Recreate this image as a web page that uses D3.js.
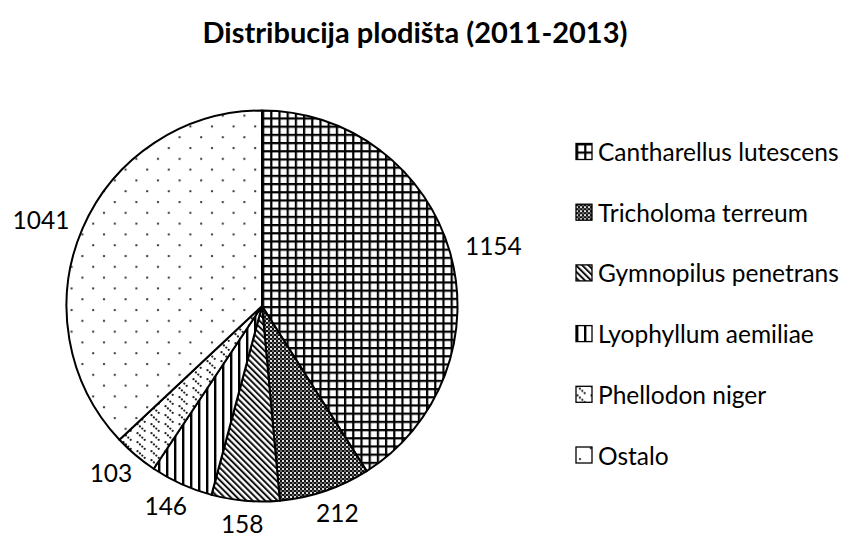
<!DOCTYPE html>
<html>
<head>
<meta charset="utf-8">
<script src="https://cdn.jsdelivr.net/npm/d3@7"></script>
<style>
  html, body { margin: 0; padding: 0; background: #fff; }
  svg { display: block; }
  text { font-family: Lato, "Open Sans", sans-serif; fill: #000; }
</style>
</head>
<body>
<svg id="chart" width="846" height="539"></svg>
<script>
// Fruiting-body counts per species, 2011-2013
const species = ["Cantharellus lutescens", "Tricholoma terreum", "Gymnopilus penetrans",
                 "Lyophyllum aemiliae", "Phellodon niger", "Ostalo"];
const counts = [1154, 212, 158, 146, 103, 1041];
const fills = ["grid", "checker", "diag", "vert", "dashdiag", "dots"];
const title = "Distribucija plodišta (2011-2013)";

const svg = d3.select("#chart");
const defs = svg.append("defs");

// Hatch patterns
function pattern(id, w, h, transform) {
  const p = defs.append("pattern").attr("id", id)
    .attr("patternUnits", "userSpaceOnUse").attr("width", w).attr("height", h);
  if (transform) p.attr("patternTransform", transform);
  p.append("rect").attr("width", w).attr("height", h).attr("fill", "#fff");
  return p;
}
// large grid
let p = pattern("grid", 8.2, 8.2);
p.append("rect").attr("x", 0).attr("y", 0).attr("width", 2.2).attr("height", 8.2).attr("fill", "#000");
p.append("rect").attr("x", 0).attr("y", 0).attr("width", 8.2).attr("height", 2.2).attr("fill", "#000");
// small checkerboard
p = pattern("checker", 4, 4);
p.select("rect").attr("fill", "#e0e0e0");
p.append("rect").attr("x", 0).attr("y", 0).attr("width", 2).attr("height", 2).attr("fill", "#111");
p.append("rect").attr("x", 2).attr("y", 2).attr("width", 2).attr("height", 2).attr("fill", "#111");
p.append("rect").attr("x", 2).attr("y", 0).attr("width", 2).attr("height", 2).attr("fill", "#666");
// dense downward diagonal
p = pattern("diag", 4.4, 4.4, "rotate(-45)");
p.append("rect").attr("x", 0).attr("y", 0).attr("width", 2).attr("height", 4.4).attr("fill", "#111");
// vertical lines
p = pattern("vert", 8, 8);
p.append("rect").attr("x", 0).attr("y", 0).attr("width", 2.4).attr("height", 8).attr("fill", "#000");
// dashed downward diagonal
p = pattern("dashdiag", 14, 9);
for (let i = 0; i < 4; i++) {
  p.append("circle").attr("cx", 1.5 + i * 2.4).attr("cy", 1.2 + i * 2.2).attr("r", 1.15).attr("fill", "#222");
}
// sparse dots
p = pattern("dots", 21.6, 21.6);
p.append("circle").attr("cx", 4).attr("cy", 4).attr("r", 1.15).attr("fill", "#333");
p.append("circle").attr("cx", 14.8).attr("cy", 14.8).attr("r", 1.15).attr("fill", "#333");

// Title
svg.append("text")
  .attr("x", 415).attr("y", 43)
  .attr("text-anchor", "middle")
  .attr("font-size", 29).attr("font-weight", "bold")
  .text(title);

// Pie
const cx = 262, cy = 306, r = 195.5;
const pie = d3.pie().sort(null).value(d => d)(counts);
const arc = d3.arc().innerRadius(0).outerRadius(r);
const g = svg.append("g").attr("transform", `translate(${cx},${cy})`);

g.selectAll("path.slice").data(pie).join("path")
  .attr("class", "slice")
  .attr("d", arc)
  .attr("fill", (d, i) => `url(#${fills[i]})`)
  .attr("stroke", "#000").attr("stroke-width", 2).attr("stroke-linejoin", "round");

// Value labels just outside each slice: the label box sits beyond the rim
const labelFont = 24.5, gap = 10, boxH = 26;
const vals = g.selectAll("text.val").data(pie).join("text")
  .attr("class", "val")
  .attr("text-anchor", "middle")
  .attr("dominant-baseline", "central")
  .attr("font-size", labelFont)
  .text(d => d.data);
vals.each(function(d) {
  const a = (d.startAngle + d.endAngle) / 2;
  const w = this.getComputedTextLength() + 14;
  const s = Math.sin(a), c = -Math.cos(a);
  d3.select(this)
    .attr("x", (r + gap + w / 2) * s)
    .attr("y", (r + gap + boxH / 2) * c);
});

// Legend
const ly = d3.scalePoint().domain(species).range([151.5, 455]);
const lg = svg.append("g").selectAll("g").data(species).join("g")
  .attr("transform", d => `translate(576,${ly(d)})`);
lg.append("rect")
  .attr("x", 0).attr("y", -8).attr("width", 16).attr("height", 16)
  .attr("fill", (d, i) => `url(#${fills[i]})`)
  .attr("stroke", "#000").attr("stroke-width", 1.3);
lg.append("text")
  .attr("x", 22).attr("y", 0)
  .attr("dominant-baseline", "central")
  .attr("font-size", 24.5)
  .text(d => d);
</script>
</body>
</html>
